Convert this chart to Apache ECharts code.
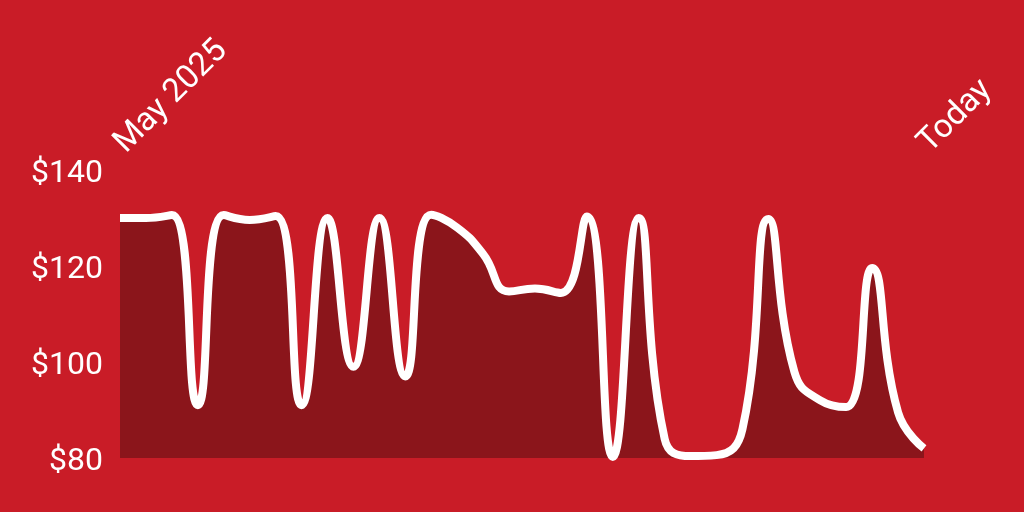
<!DOCTYPE html>
<html>
<head>
<meta charset="utf-8">
<script src="https://cdn.jsdelivr.net/npm/echarts@6/dist/echarts.min.js"></script>
<style>
  html, body { margin: 0; padding: 0; background: #c91c27; }
  #chart { width: 1024px; height: 512px; }
</style>
</head>
<body>
<div id="chart"></div>
<script>
// Point index along the time axis (May 2025 -> Today)
const categories = ['0','1','2','3','4','5','6','7','8','9','10','11','12','13','14','15',
                    '16','17','18','19','20','21','22','23','24','25','26','27','28','29','30','31'];
// Tick labels shown at the two ends of the time axis
const endLabels = ['May 2025', 'Today'];
// Price values (USD)
const prices = [130, 130, 130.6, 91, 130.6, 129.6, 130.4, 91, 130, 99, 130, 97,
                130.7, 128, 122.5, 114.7, 115.3, 114.4, 130.3, 80.2, 130, 84, 80.4, 80.6,
                86, 129.8, 98, 92, 90.6, 119.6, 89.5, 82];
// Y axis ticks
const yMin = 80, yMax = 140, yStep = 20;

const chart = echarts.init(document.getElementById('chart'), null, { renderer: 'canvas' });
const last = categories.length - 1;
chart.setOption({
  backgroundColor: '#c91c27',
  animation: false,
  grid: { left: 120, right: 100, top: 170, bottom: 54, containLabel: false },
  xAxis: {
    type: 'category',
    position: 'top',
    boundaryGap: false,
    data: categories,
    axisLine: { show: false },
    axisTick: { show: false },
    splitLine: { show: false },
    axisLabel: {
      interval: (i) => i === 0 || i === last,
      rotate: -45,
      margin: 22,
      color: '#ffffff',
      fontFamily: 'Roboto',
      fontSize: 33,
      formatter: (v, i) => (i === 0 ? endLabels[0] : (i === last ? endLabels[1] : ''))
    }
  },
  yAxis: {
    type: 'value',
    min: yMin,
    max: yMax,
    interval: yStep,
    axisLine: { show: false },
    axisTick: { show: false },
    splitLine: { show: false },
    axisLabel: {
      color: '#ffffff',
      fontFamily: 'Roboto',
      fontSize: 32,
      margin: 17,
      verticalAlign: 'top',
      lineHeight: 8,
      formatter: (v) => '$' + v
    }
  },
  series: [{
    type: 'line',
    data: prices,
    smooth: true,
    showSymbol: false,
    symbol: 'none',
    lineStyle: { color: '#ffffff', width: 8 },
    areaStyle: { color: '#8b151b', opacity: 1 }
  }]
});
</script>
</body>
</html>
